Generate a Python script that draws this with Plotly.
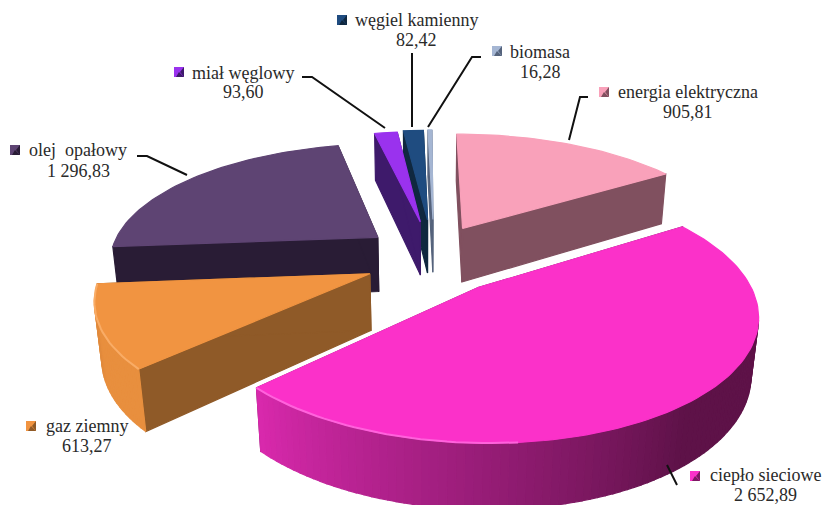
import math
import plotly.graph_objects as go

categories = ["energia elektryczna", "ciepło sieciowe", "gaz ziemny", "olej\u00a0 opałowy",
              "miał węglowy", "węgiel kamienny", "biomasa"]
values = [905.81, 2652.89, 613.27, 1296.83, 93.60, 82.42, 16.28]
value_labels = ["905,81", "2\u00a0652,89", "613,27", "1\u00a0296,83", "93,60", "82,42", "16,28"]
top_colors = ["#f9a1ba", "#fb31c9", "#f19441", "#5e4473", "#9a32ee", "#1f4c80", "#a5b6d3"]
radial_colors = ["#80505f", "#7c1a62", "#8f5a28", "#291c35", "#3e1a6b", "#10283f", "#55637c"]
# wall colour at the start and the end of each slice's arc
arc_from = ["#80505f", "#5e1248", "#e88f3e", "#291c35", "#3e1a6b", "#10283f", "#55637c"]
arc_to = ["#80505f", "#d929ad", "#d9843a", "#291c35", "#3e1a6b", "#10283f", "#55637c"]
# slice displacement in the pie's plane, and slice radius
shift_x = [0.140, 0.178, -0.200, -0.182, -0.022, 0.006, 0.027]
shift_y = [0.275, -0.222, -0.112, 0.195, 0.336, 0.354, 0.360]
radius = [1.03, 0.955, 0.955, 0.985, 1.0, 1.0, 1.0]
draw_order = [6, 5, 4, 3, 0, 2, 1]

# camera of the 3-D pie
CX, CY, F = 426, 260, 275
TILT, DIST, HEIGHT = math.radians(26), 4.7, 0.23


def project(x, y, z):
    v = y * math.sin(TILT) + z * math.cos(TILT)
    w = y * math.cos(TILT) - z * math.sin(TILT)
    s = DIST / (DIST + w)
    return CX + F * x * s, CY - F * v * s


def mix(a, b, t):
    pa = [int(a[i:i + 2], 16) for i in (1, 3, 5)]
    pb = [int(b[i:i + 2], 16) for i in (1, 3, 5)]
    return "rgb(%d,%d,%d)" % tuple(round(p + (q - p) * t) for p, q in zip(pa, pb))


fig = go.Figure()


def poly(pts, color):
    fig.add_trace(go.Scatter(
        x=[p[0] for p in pts] + [pts[0][0]], y=[p[1] for p in pts] + [pts[0][1]],
        mode="lines", fill="toself", fillcolor=color,
        line=dict(color=color, width=1.2), hoverinfo="skip", showlegend=False))


total = sum(values)
starts = [sum(values[:i]) / total * 2 * math.pi for i in range(len(values))]
ends = [sum(values[:i + 1]) / total * 2 * math.pi for i in range(len(values))]
rim_colors = {1: "#ff62dc", 2: "#f9ac66"}

for i in draw_order:
    a0, a1 = starts[i], ends[i]
    ox, oy, r = shift_x[i], shift_y[i], radius[i]

    def P(q, a, z=0.0):
        return project(ox + q * math.sin(a), oy + q * math.cos(a), z)

    n = max(2, int((a1 - a0) / math.radians(1.5)))
    angles = [a0 + (a1 - a0) * k / n for k in range(n + 1)]
    # radial walls
    poly([P(0, a0), P(r, a0), P(r, a0, -HEIGHT), P(0, a0, -HEIGHT)], radial_colors[i])
    poly([P(0, a1), P(r, a1), P(r, a1, -HEIGHT), P(0, a1, -HEIGHT)], radial_colors[i])
    # outer wall, strip by strip
    for k in range(n):
        a, b = angles[k], angles[k + 1]
        m = (a + b) / 2
        if (DIST * math.cos(TILT)) * math.cos(m) + 1 < 0:
            t = max(0.0, 2 * (k + 0.5) / n - 1)
            poly([P(r, a), P(r, b), P(r, b, -HEIGHT), P(r, a, -HEIGHT)],
                 mix(arc_from[i], arc_to[i], t))
    # top face
    poly([P(0, a0)] + [P(r, a) for a in angles], top_colors[i])
    # soft light rim on the front-left edge
    if i in rim_colors:
        rim = [a for a in angles if a > math.radians(175)]
        pts = [P(r, a) for a in rim]
        fig.add_trace(go.Scatter(x=[p[0] for p in pts], y=[p[1] for p in pts], mode="lines",
                                 line=dict(color=rim_colors[i], width=2), hoverinfo="skip",
                                 showlegend=False))

# (text centre x, first line y, second line y, key x, key y)
label_boxes = [
    (688, 92, 112, 604, 92),
    (765, 475, 495, 695, 476),
    (87, 426, 446, 31, 426),
    (78, 150, 171, 15, 150),
    (243, 73, 92, 179, 72),
    (416, 20, 40, 342, 20),
    (540, 52, 72, 497, 51),
]
leaders = [
    [(588, 97), (580, 97), (569, 140)],
    [(667, 465), (677, 485)],
    [],
    [(137, 156), (147, 156), (187, 175)],
    [(302, 77), (312, 77), (385, 128)],
    [(412, 53), (412, 127)],
    [(481, 57), (472, 57), (428, 127)],
]

shapes, annotations = [], []
for i, (tx, y1, y2, kx, ky) in enumerate(label_boxes):
    annotations.append(dict(x=tx, y=y1, text=categories[i], showarrow=False, xanchor="center", yanchor="middle",
                            font=dict(family="Liberation Serif", size=18, color="#2a2a2a")))
    annotations.append(dict(x=tx, y=y2, text=value_labels[i], showarrow=False, xanchor="center", yanchor="middle",
                            font=dict(family="Liberation Serif", size=18, color="#2a2a2a")))
    h = 5
    shapes.append(dict(type="rect", x0=kx - h, x1=kx + h, y0=ky - h, y1=ky + h, line=dict(width=0),
                       fillcolor=top_colors[i]))
    shapes.append(dict(type="path", line=dict(width=0), fillcolor=radial_colors[i],
                       path=f"M{kx + h},{ky - h} L{kx + 1},{ky} L{kx + h},{ky + h} Z"))
    shapes.append(dict(type="path", line=dict(width=0), fillcolor=radial_colors[i],
                       path=f"M{kx - h + 2},{ky + h} L{kx},{ky} L{kx + h},{ky + h} Z"))
    pts = leaders[i]
    if pts:
        path = "M" + " L".join(f"{x},{y}" for x, y in pts)
        shapes.append(dict(type="path", path=path, line=dict(color="#111111", width=2), fillcolor="rgba(0,0,0,0)"))

fig.update_layout(
    width=825, height=505, margin=dict(l=0, r=0, t=0, b=0),
    paper_bgcolor="white", plot_bgcolor="white", showlegend=False,
    xaxis=dict(range=[0, 825], visible=False, fixedrange=True),
    yaxis=dict(range=[505, 0], visible=False, fixedrange=True),
    shapes=shapes, annotations=annotations,
)
fig.write_html("out.html", config={"displayModeBar": False},
               post_script="document.body.style.margin='0';document.documentElement.style.overflow='hidden';")
